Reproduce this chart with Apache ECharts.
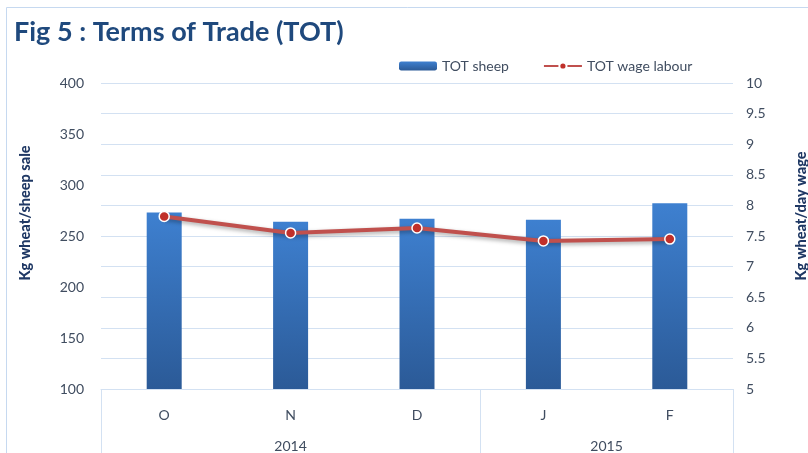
<!DOCTYPE html>
<html>
<head>
<meta charset="utf-8">
<script src="https://cdn.jsdelivr.net/npm/echarts@6/dist/echarts.min.js"></script>
<style>
  html, body { margin: 0; padding: 0; background: #fff; }
  #chart { width: 808px; height: 453px; }
</style>
</head>
<body>
<div id="chart"></div>
<script>
// data
const months = ["O", "N", "D", "J", "F"];
const years = ["2014", "2015"];
const yearSpans = [3, 2]; // months per year group
const totSheep = [273, 264, 267, 266, 282];
const totWage = [7.82, 7.55, 7.63, 7.42, 7.45];

// year label positions and group boundaries on a 0..5 scale
const yearCenters = [];
const yearBounds = [0];
let acc = 0;
yearSpans.forEach(function (n) {
  yearCenters.push(acc + n / 2);
  acc += n;
  yearBounds.push(acc);
});

const labelColor = "#404d60";
const nameColor = "#1f3864";
const lineBlue = "#d3e1f2";
const font = "Lato";

const chart = echarts.init(document.getElementById("chart"));
chart.setOption({
  animation: false,
  backgroundColor: "#fff",
  title: {
    text: "Fig 5 : Terms of Trade (TOT)",
    left: 9,
    top: 14,
    textStyle: { fontFamily: font, fontWeight: "bold", fontSize: 27, color: "#1f497d" },
  },
  graphic: [
    {
      type: "rect",
      shape: { x: 6.5, y: 7.5, width: 900, height: 600 },
      style: { fill: "none", stroke: "#c6d9f0", lineWidth: 1 },
      silent: true,
    },
  ],
  legend: {
    left: 394,
    top: 54,
    itemWidth: 38,
    itemHeight: 9,
    itemGap: 34,
    textStyle: { fontFamily: font, fontSize: 14, color: labelColor },
    data: ["TOT sheep", "TOT wage labour"],
  },
  grid: { left: 101, right: 75, top: 83, bottom: 64, outerBoundsMode: "none", containLabel: false },
  xAxis: [
    {
      type: "category",
      data: months,
      position: "bottom",
      axisLine: { show: true, lineStyle: { color: lineBlue, width: 1 } },
      axisTick: { show: false },
      axisLabel: { margin: 19, fontFamily: font, fontSize: 14, color: labelColor },
    },
    {
      type: "value",
      min: 0,
      max: months.length,
      position: "bottom",
      axisLine: { show: false },
      splitLine: { show: false },
      axisTick: {
        show: true,
        customValues: yearBounds,
        length: 70,
        lineStyle: { color: lineBlue, width: 1 },
      },
      axisLabel: {
        customValues: yearCenters,
        margin: 50,
        fontFamily: font,
        fontSize: 14,
        color: labelColor,
        formatter: function (v) {
          const i = yearCenters.indexOf(v);
          return i >= 0 ? years[i] : "";
        },
      },
    },
  ],
  yAxis: [
    {
      type: "value",
      min: 100,
      max: 400,
      interval: 50,
      name: "Kg wheat/sheep sale",
      nameLocation: "middle",
      nameRotate: 90,
      nameGap: 68,
      nameTextStyle: { fontFamily: font, fontWeight: 900, fontSize: 14.5, color: nameColor, padding: [0, 0, 0, 46] },
      axisLine: { show: false },
      axisTick: { show: false },
      splitLine: { show: false },
      axisLabel: { margin: 17, fontFamily: font, fontSize: 14, color: labelColor },
    },
    {
      type: "value",
      min: 5,
      max: 10,
      interval: 0.5,
      position: "right",
      name: "Kg wheat/day wage",
      nameLocation: "middle",
      nameRotate: 90,
      nameGap: 61,
      nameTextStyle: { fontFamily: font, fontWeight: 900, fontSize: 14.5, color: nameColor, padding: [0, 0, 0, 40] },
      axisLine: { show: false },
      axisTick: { show: false },
      splitLine: { show: true, lineStyle: { color: lineBlue, width: 1 } },
      axisLabel: { margin: 13, fontFamily: font, fontSize: 14, color: labelColor },
    },
  ],
  series: [
    {
      name: "TOT sheep",
      type: "bar",
      xAxisIndex: 0,
      yAxisIndex: 0,
      barWidth: 35,
      data: totSheep,
      itemStyle: {
        color: new echarts.graphic.LinearGradient(0, 0, 0, 1, [
          { offset: 0, color: "#3e80d0" },
          { offset: 1, color: "#2b5a97" },
        ]),
      },
    },
    {
      name: "TOT wage labour",
      type: "line",
      xAxisIndex: 0,
      yAxisIndex: 1,
      data: totWage,
      symbol: "circle",
      symbolSize: 10,
      lineStyle: {
        color: "#c0504d",
        width: 4,
        shadowColor: "rgba(0,0,0,0.35)",
        shadowBlur: 4,
        shadowOffsetY: 2,
      },
      itemStyle: { color: "#c0302a", borderColor: "#fff", borderWidth: 1.5 },
    },
  ],
});
</script>
</body>
</html>
